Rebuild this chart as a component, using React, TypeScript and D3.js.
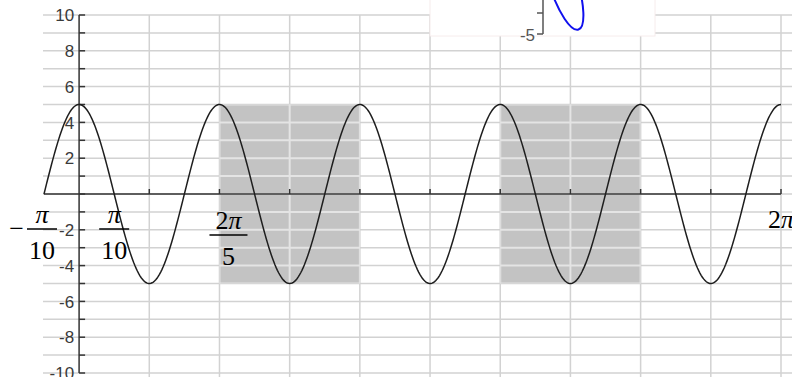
import React from "react";
import * as d3 from "d3";

// y = A cos(B x), plotted from -π/10 to 2π
const AMPLITUDE = 5;
const FREQUENCY = 5;
const X_START = -Math.PI / 10;
const X_END = 2 * Math.PI;
const SAMPLES = 600;

// y-axis ticks (every unit) and the labelled ones
const yTicks = d3.range(-10, 11, 1);
const yLabels = [10, 8, 6, 4, 2, -2, -4, -6, -8, -10];

// vertical grid at multiples of π/5
const gridSteps = d3.range(1, 11);
const GRID_STEP = Math.PI / 5;

// shaded bands: [start, end] in radians
const bandStarts = [(2 * Math.PI) / 5, (6 * Math.PI) / 5];
const bandEnds = [(4 * Math.PI) / 5, (8 * Math.PI) / 5];
const bandTop = 5;
const bandBottom = -5;

// fraction tick labels on the x axis
const fracValues = [-Math.PI / 10, Math.PI / 10, (2 * Math.PI) / 5];
const fracNums = ["π", "π", "2π"];
const fracDens = ["10", "10", "5"];
const fracSigns = ["−", "", ""];

const W = 792;
const H = 377;

export default function App() {
  const x = d3.scaleLinear().domain([X_START, X_END]).range([44, 781]);
  const y = d3.scaleLinear().domain([-10, 10]).range([373, 15]);

  const pts: [number, number][] = d3
    .range(SAMPLES + 1)
    .map((i) => X_START + ((X_END - X_START) * i) / SAMPLES)
    .map((t) => [t, AMPLITUDE * Math.cos(FREQUENCY * t)]);
  const line = d3
    .line<[number, number]>()
    .x((d) => x(d[0]))
    .y((d) => y(d[1]));

  const x0 = x(0);
  const y0 = y(0);

  const grid = (color: string, width: number) => (
    <g stroke={color} strokeWidth={width}>
      {yTicks.map((v) => (
        <line key={"h" + v} x1={43} x2={W} y1={y(v)} y2={y(v)} />
      ))}
      {gridSteps.map((k) => (
        <line key={"v" + k} x1={x(k * GRID_STEP)} x2={x(k * GRID_STEP)} y1={15} y2={H} />
      ))}
    </g>
  );

  return (
    <svg width={W} height={H} style={{ position: "absolute", left: 0, top: 0, background: "#fff" }}>
      <defs>
        <clipPath id="bands">
          {bandStarts.map((s, i) => (
            <rect key={i} x={x(s)} y={y(bandTop)} width={x(bandEnds[i]) - x(s)} height={y(bandBottom) - y(bandTop)} />
          ))}
        </clipPath>
      </defs>
      {grid("#d2d2d2", 1.5)}
      {bandStarts.map((s, i) => (
        <rect key={i} x={x(s)} y={y(bandTop)} width={x(bandEnds[i]) - x(s)} height={y(bandBottom) - y(bandTop)} fill="#c3c3c3" />
      ))}
      <g clipPath="url(#bands)">{grid("#e4e4e4", 2)}</g>

      {/* x axis */}
      <line x1={x(X_START)} x2={x(X_END)} y1={y0} y2={y0} stroke="#333" strokeWidth={1.5} />
      {gridSteps.map((k) => (
        <line key={k} x1={x(k * GRID_STEP)} x2={x(k * GRID_STEP)} y1={y0 - 5} y2={y0} stroke="#333" strokeWidth={1.5} />
      ))}

      {/* y axis */}
      <line x1={x0} x2={x0} y1={y(10)} y2={y(-10)} stroke="#333" strokeWidth={1.5} />
      {yTicks.map((v) => (
        <line key={v} x1={x0} x2={x0 + 6} y1={y(v)} y2={y(v)} stroke="#333" strokeWidth={1.5} />
      ))}
      {yLabels.map((v) => (
        <text
          key={v}
          x={x0 - 5}
          y={y(v)}
          dy="0.36em"
          textAnchor="end"
          fontFamily="Liberation Sans, Arial, sans-serif"
          fontSize={17}
          fill="#3a3a3a"
        >
          {v}
        </text>
      ))}

      {/* curve */}
      <path d={line(pts) || ""} fill="none" stroke="#1e1e1e" strokeWidth={1.5} />

      {/* fraction labels */}
      {fracValues.map((v, i) => {
        const cx = x(v) + (i === 2 ? 9 : i === 0 ? -2 : 0);
        const by = i === 2 ? 235 : 229;
        const half = i === 2 ? 19 : 15;
        return (
          <g key={i} fontFamily="Liberation Serif, Times New Roman, serif" fontSize={26} fill="#000">
            {fracSigns[i] && (
              <text x={cx - half - 3} y={by + 8} textAnchor="end">
                {fracSigns[i]}
              </text>
            )}
            <text x={cx} y={by - 6} textAnchor="middle">
              {fracNums[i].startsWith("2") ? (
                <>
                  <tspan>2</tspan>
                  <tspan fontStyle="italic">π</tspan>
                </>
              ) : (
                <tspan fontStyle="italic">π</tspan>
              )}
            </text>
            <line x1={cx - half} x2={cx + half} y1={by} y2={by} stroke="#000" strokeWidth={1.5} />
            <text x={cx} y={by + 30} textAnchor="middle">
              {fracDens[i]}
            </text>
          </g>
        );
      })}
      <text x={x(X_END) - 13} y={228} fontFamily="Liberation Serif, Times New Roman, serif" fontSize={26} fill="#000">
        <tspan>2</tspan>
        <tspan fontStyle="italic">π</tspan>
      </text>

      {/* inset panel */}
      <g>
        <rect x={430} y={-10} width={225} height={46} fill="#fff" stroke="#f6ecec" strokeWidth={1} />
        <line x1={543} x2={543} y1={0} y2={34} stroke="#555" strokeWidth={1.5} />
        <line x1={537} x2={543} y1={34} y2={34} stroke="#555" strokeWidth={1.5} />
        <line x1={537} x2={543} y1={13} y2={13} stroke="#555" strokeWidth={1.5} />
        <text x={535} y={35} dy="0.36em" textAnchor="end" fontFamily="Liberation Sans, Arial, sans-serif" fontSize={17} fill="#555">
          -5
        </text>
        <ellipse cx={563} cy={-18} rx={14} ry={50} transform="rotate(-18 563 -18)" fill="none" stroke="#1010ee" strokeWidth={2} />
      </g>
    </svg>
  );
}
